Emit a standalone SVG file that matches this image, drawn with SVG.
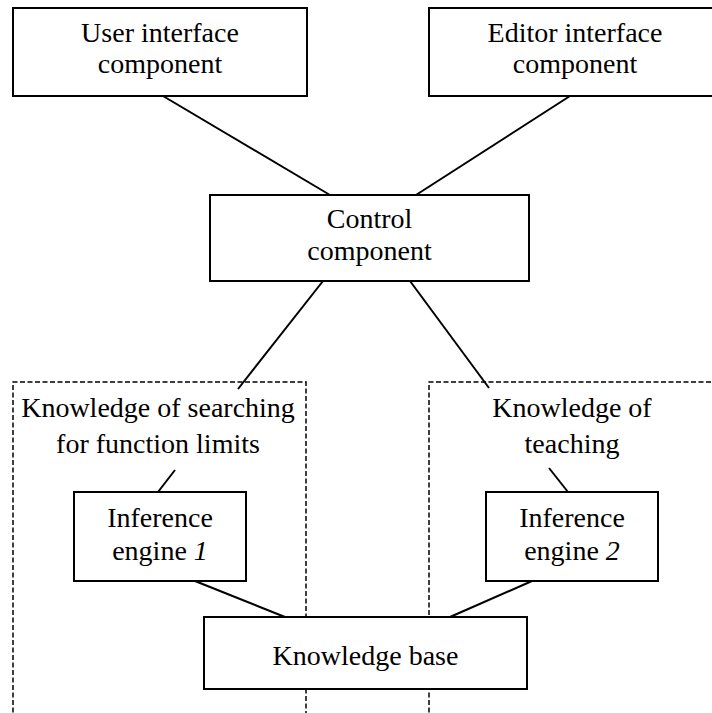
<svg xmlns="http://www.w3.org/2000/svg" width="712" height="713" viewBox="0 0 712 713" font-family="Times New Roman, Liberation Serif, serif">
  <style>
    .box { fill: #ffffff; stroke: #000000; stroke-width: 2; }
    .zone { fill: none; stroke: #000000; stroke-width: 1.5; stroke-dasharray: 5 2.5; }
    .link { stroke: #000000; stroke-width: 2; fill: none; }
  </style>
  <rect width="712" height="713" fill="#ffffff"/>

  <!-- knowledge zones (dashed) -->
  <g id="zone-limits">
    <polyline class="zone" points="13,720 13,382 306,382 306,720"/>
    <text style="font-family:'Times New Roman','Liberation Serif',serif;font-size:28px" x="158" y="417" text-anchor="middle">Knowledge of searching</text>
    <text style="font-family:'Times New Roman','Liberation Serif',serif;font-size:28px" x="158" y="453" text-anchor="middle">for function limits</text>
  </g>
  <g id="zone-teaching">
    <polyline class="zone" points="429,720 429,382 720,382"/>
    <text style="font-family:'Times New Roman','Liberation Serif',serif;font-size:28px" x="572" y="417" text-anchor="middle">Knowledge of</text>
    <text style="font-family:'Times New Roman','Liberation Serif',serif;font-size:28px" x="572" y="453" text-anchor="middle">teaching</text>
  </g>

  <!-- connectors -->
  <g id="connectors">
    <line class="link" x1="163" y1="96" x2="330" y2="195"/>
    <line class="link" x1="570" y1="96" x2="416" y2="195"/>
    <line class="link" x1="323" y1="281" x2="238" y2="389"/>
    <line class="link" x1="410" y1="281" x2="489" y2="388"/>
    <line class="link" x1="175" y1="470" x2="158" y2="492"/>
    <line class="link" x1="549" y1="468" x2="568" y2="492"/>
    <line class="link" x1="195" y1="581" x2="285" y2="617"/>
    <line class="link" x1="532" y1="581" x2="450" y2="617"/>
  </g>

  <g id="user-interface">
    <rect class="box" x="13" y="8" width="294" height="88"/>
    <text style="font-family:'Times New Roman','Liberation Serif',serif;font-size:28px" x="160" y="42" text-anchor="middle">User interface</text>
    <text style="font-family:'Times New Roman','Liberation Serif',serif;font-size:28px" x="160" y="73" text-anchor="middle">component</text>
  </g>
  <g id="editor-interface">
    <rect class="box" x="429" y="8" width="292" height="88"/>
    <text style="font-family:'Times New Roman','Liberation Serif',serif;font-size:28px" x="575" y="42" text-anchor="middle">Editor interface</text>
    <text style="font-family:'Times New Roman','Liberation Serif',serif;font-size:28px" x="575" y="73" text-anchor="middle">component</text>
  </g>
  <g id="control">
    <rect class="box" x="210" y="195" width="319" height="86"/>
    <text style="font-family:'Times New Roman','Liberation Serif',serif;font-size:28px" x="369.5" y="228" text-anchor="middle">Control</text>
    <text style="font-family:'Times New Roman','Liberation Serif',serif;font-size:28px" x="369.5" y="260" text-anchor="middle">component</text>
  </g>
  <g id="engine-1">
    <rect class="box" x="74" y="492" width="172" height="89"/>
    <text style="font-family:'Times New Roman','Liberation Serif',serif;font-size:28px" x="160" y="527" text-anchor="middle">Inference</text>
    <text style="font-family:'Times New Roman','Liberation Serif',serif;font-size:28px" x="160" y="560" text-anchor="middle">engine <tspan style="font-style:italic">1</tspan></text>
  </g>
  <g id="engine-2">
    <rect class="box" x="486" y="492" width="172" height="89"/>
    <text style="font-family:'Times New Roman','Liberation Serif',serif;font-size:28px" x="572" y="527" text-anchor="middle">Inference</text>
    <text style="font-family:'Times New Roman','Liberation Serif',serif;font-size:28px" x="572" y="560" text-anchor="middle">engine <tspan style="font-style:italic">2</tspan></text>
  </g>
  <g id="knowledge-base">
    <rect class="box" x="204" y="617" width="323" height="72"/>
    <text style="font-family:'Times New Roman','Liberation Serif',serif;font-size:28px" x="365.5" y="665" text-anchor="middle">Knowledge base</text>
  </g>
</svg>
